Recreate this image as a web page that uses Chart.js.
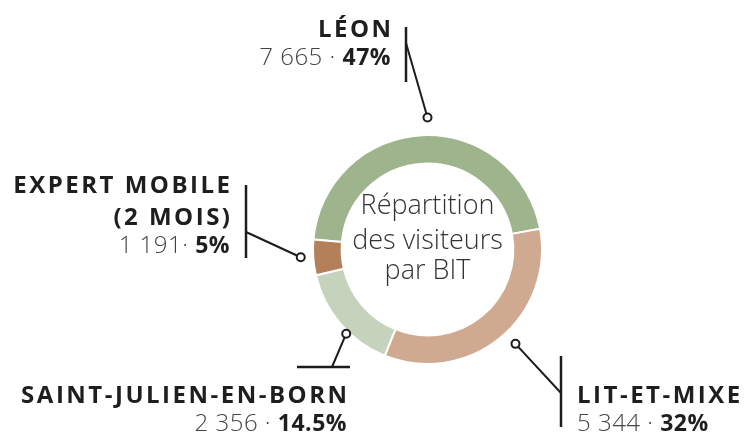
<!DOCTYPE html>
<html>
<head>
<meta charset="utf-8">
<script src="https://cdn.jsdelivr.net/npm/chart.js@4"></script>
<style>
    html, body { margin: 0; padding: 0; background: #fff; }
</style>
</head>
<body>
<canvas id="bitChart" width="744" height="437"></canvas>
<script>
// Données
const bitNames = ['LÉON', 'LIT-ET-MIXE', 'SAINT-JULIEN-EN-BORN', 'EXPERT MOBILE (2 MOIS)'];
const visitorCounts = ['7 665 · ', '5 344 · ', '2 356 · ', '1 191· '];
const percentLabels = ['47%', '32%', '14.5%', '5%'];
// part de l'anneau occupée par chaque secteur (mesurée sur l'image)
const ringShares = [45.7, 34, 15.3, 5];
const sliceColors = ['#9eb48c', '#cfaa91', '#c6d3bc', '#b4805a'];
const centerTitle = ['Répartition', 'des visiteurs', 'par BIT'];

// Mise en page des étiquettes (positions en pixels, angle en degrés depuis le haut)
const labelLayout = [
    { lines: ['LÉON'], x: 391, y: 37, align: 'right', bar: [406, 27, 406, 82], from: [406, 43], angle: 0, dist: 132 },
    { lines: ['LIT-ET-MIXE'], x: 577, y: 403, align: 'left', bar: [561, 356, 561, 427], from: [561, 393], angle: 137, dist: 129 },
    { lines: ['SAINT-JULIEN-EN-BORN'], x: 347, y: 403, align: 'right', bar: [297, 367, 350, 367], from: [332, 367], angle: 224, dist: 117 },
    { lines: ['EXPERT MOBILE', '(2 MOIS)'], x: 230, y: 193, align: 'right', bar: [246, 185, 246, 258], from: [246, 232], angle: 266.5, dist: 127 }
];

const FONT = '"Open Sans", "Noto Sans", sans-serif';

const labelsPlugin = {
    id: 'bitLabels',
    afterDraw(chart) {
        const ctx = chart.ctx;
        const arc = chart.getDatasetMeta(0).data[0];
        const cx = arc.x, cy = arc.y;

        // Texte central
        ctx.save();
        ctx.fillStyle = '#333';
        ctx.font = '300 27px ' + FONT;
        ctx.textAlign = 'center';
        ctx.textBaseline = 'alphabetic';
        const baselines = [cy - 36, cy - 1, cy + 29];
        centerTitle.forEach((t, i) => ctx.fillText(t, cx, baselines[i]));
        ctx.restore();

        labelLayout.forEach((lay, i) => {
            ctx.save();
            ctx.strokeStyle = '#1c1c1c';
            ctx.lineWidth = 2.5;
            // barre
            ctx.beginPath();
            ctx.moveTo(lay.bar[0], lay.bar[1]);
            ctx.lineTo(lay.bar[2], lay.bar[3]);
            ctx.stroke();
            // trait vers le secteur
            const a = (lay.angle - 90) * Math.PI / 180;
            const px = cx + Math.cos(a) * lay.dist;
            const py = cy + Math.sin(a) * lay.dist;
            ctx.lineWidth = 2;
            ctx.beginPath();
            ctx.moveTo(lay.from[0], lay.from[1]);
            ctx.lineTo(px, py);
            ctx.stroke();
            ctx.beginPath();
            ctx.arc(px, py, 4, 0, Math.PI * 2);
            ctx.fillStyle = '#fff';
            ctx.fill();
            ctx.stroke();

            // nom du BIT
            ctx.fillStyle = '#1e1e1e';
            ctx.font = 'bold 24px ' + FONT;
            ctx.letterSpacing = '2.5px';
            ctx.textAlign = lay.align;
            const shift = lay.align === 'right' ? 2.5 : 0;
            lay.lines.forEach((t, k) => ctx.fillText(t, lay.x + shift, lay.y + k * 32));

            // valeurs
            const vy = lay.y + lay.lines.length * 32 - 4;
            ctx.letterSpacing = '0.5px';
            ctx.font = 'bold 23px ' + FONT;
            const pctW = ctx.measureText(percentLabels[i]).width;
            ctx.font = '300 24px ' + FONT;
            const numW = ctx.measureText(visitorCounts[i]).width;
            const left = lay.align === 'right' ? lay.x - pctW - numW : lay.x;
            ctx.textAlign = 'left';
            ctx.fillStyle = '#444';
            ctx.fillText(visitorCounts[i], left, vy);
            ctx.font = 'bold 23px ' + FONT;
            ctx.fillStyle = '#1e1e1e';
            ctx.fillText(percentLabels[i], left + numW, vy);
            ctx.restore();
        });
    }
};

new Chart(document.getElementById('bitChart'), {
    type: 'doughnut',
    data: {
        labels: bitNames,
        datasets: [{
            data: ringShares,
            backgroundColor: sliceColors,
            borderColor: '#ffffff',
            borderWidth: 2
        }]
    },
    options: {
        responsive: false,
        animation: false,
        rotation: 275,
        cutout: '75%',
        layout: { padding: { left: 312, right: 201, top: 134, bottom: 72 } },
        plugins: {
            legend: { display: false },
            tooltip: { enabled: false }
        }
    },
    plugins: [labelsPlugin]
});
</script>
</body>
</html>
